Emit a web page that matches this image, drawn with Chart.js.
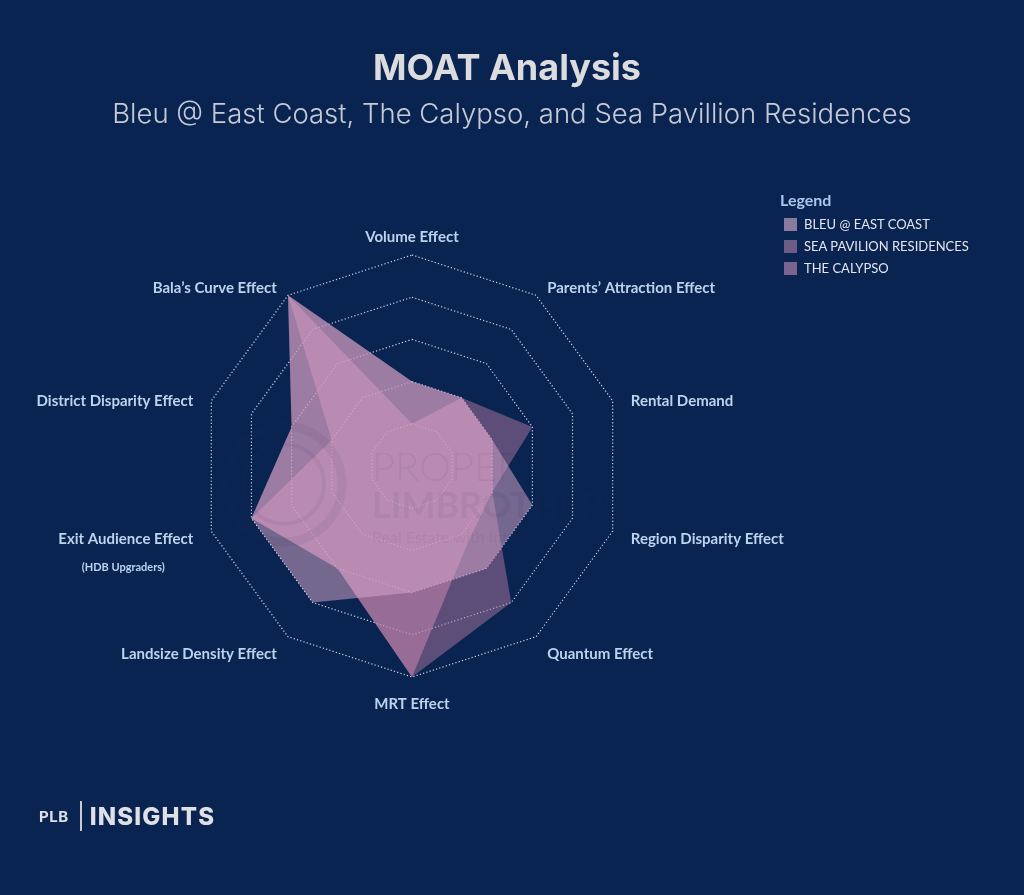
<!DOCTYPE html>
<html>
<head>
<meta charset="utf-8">
<script src="https://cdn.jsdelivr.net/npm/chart.js@4.4.1/dist/chart.umd.min.js"></script>
<style>
  html, body { margin: 0; padding: 0; background: #0a2451; }
  #wrap { position: relative; width: 1024px; height: 895px; overflow: hidden; }
  #moat { position: absolute; left: 0; top: 0; }
  .title { position: absolute; left: 0; width: 1024px; text-align: center; font-family: Inter, 'Noto Sans', sans-serif; }
  #t1 { top: 44px; left: -5px; font-size: 36px; font-weight: 700; color: #dcdcdf; line-height: 46px; }
  #t2 { top: 96px; font-size: 27.5px; font-weight: 300; color: #c6cad6; line-height: 34px; }
  #legend { position: absolute; left: 780px; top: 190px; font-family: Lato, 'Noto Sans', sans-serif; }
  #legend .head { font-size: 16px; font-weight: 700; color: #a9c7ec; margin-bottom: 4px; }
  #legend .row { display: flex; align-items: center; height: 22px; margin-left: 4px; font-size: 13px; color: #e4e5ee; }
  #legend .sw { width: 13px; height: 13px; margin-right: 7px; }
  #logo { position: absolute; left: 39px; top: 801px; font-family: Inter, 'Noto Sans', sans-serif; font-weight: 700; color: #dfe0e6; display: flex; align-items: center; }
  #logo .plb { font-size: 15px; letter-spacing: 0.5px; }
  #logo .bar { width: 2px; height: 30px; background: #c9cbd3; margin: 0 8px 0 11px; }
  #logo .ins { font-size: 24px; font-weight: 800; letter-spacing: 1.2px; }
</style>
</head>
<body>
<div id="wrap">
  <canvas id="moat" width="1024" height="895"></canvas>
  <div class="title" id="t1">MOAT Analysis</div>
  <div class="title" id="t2">Bleu @ East Coast, The Calypso, and Sea Pavillion Residences</div>
  <div id="legend"></div>
  <div id="logo"><span class="plb">PLB</span><span class="bar"></span><span class="ins">INSIGHTS</span></div>
</div>
<script>
// Axes, clockwise from the top
const axisLabels = [
  'Volume Effect',
  'Parents’ Attraction Effect',
  'Rental Demand',
  'Region Disparity Effect',
  'Quantum Effect',
  'MRT Effect',
  'Landsize Density Effect',
  ['Exit Audience Effect', '(HDB Upgraders)'],
  'District Disparity Effect',
  'Bala’s Curve Effect'
];

// Scores out of 10 (5 rings of 2)
const bleuScores = [4, 4, 4, 6, 6, 6, 8, 8, 6, 10];
const seaPavilionScores = [4, 4, 6, 4, 8, 10, 6, 8, 6, 10];
const calypsoScores = [2, 4, 4, 4, 4.5, 10, 6, 8, 4, 10];

const seriesNames = ['BLEU @ EAST COAST', 'SEA PAVILION RESIDENCES', 'THE CALYPSO'];

const colors = {
  bleu: 'rgba(222, 172, 206, 0.5)',
  sea: 'rgba(174, 117, 162, 0.5)',
  calypso: 'rgba(250, 162, 198, 0.5)',
  swatches: ['#8b7a9f', '#6d5c86', '#7b6590'],
  grid: 'rgba(232, 234, 245, 0.9)',
  label: '#bcd3ee'
};

// Legend (HTML)
const legendEl = document.getElementById('legend');
legendEl.innerHTML = '<div class="head">Legend</div>' + seriesNames.map((name, i) => {
  return `<div class="row"><span class="sw" style="background:${colors.swatches[i]}"></span>${name}</div>`;
}).join('');

/**
 * Axis names drawn just outside the outer ring
 */
const axisLabelPlugin = {
  id: 'axisLabelText',
  afterDraw(chart) {
    const scale = chart.scales.r;
    const ctx = chart.ctx;
    ctx.save();
    ctx.fillStyle = colors.label;
    ctx.textBaseline = 'middle';
    axisLabels.forEach((label, i) => {
      const pos = scale.getPointPosition(i, scale.drawingArea + 19);
      const dx = pos.x - scale.xCenter;
      let dy = 2;
      if (i === 0) dy = 1;
      else if (i === 5) dy = 8;
      else if (i === 1 || i === 9) dy = 8;
      else if (i === 2 || i === 8) dy = 6;
      ctx.textAlign = Math.abs(dx) < 5 ? 'center' : (dx > 0 ? 'left' : 'right');
      const lines = Array.isArray(label) ? label : [label];
      ctx.font = 'bold 15px Lato';
      ctx.fillText(lines[0], pos.x, pos.y + dy);
      if (lines[1]) {
        ctx.font = 'bold 11px Lato';
        ctx.textAlign = 'center';
        ctx.fillText(lines[1], pos.x - 70, pos.y + dy + 28);
      }
    });
    ctx.restore();
  }
};

/**
 * Faint watermark over the shapes
 */
const watermarkPlugin = {
  id: 'watermark',
  afterDatasetsDraw(chart) {
    const scale = chart.scales.r;
    const ctx = chart.ctx;
    const cx = scale.xCenter;
    const cy = scale.yCenter;
    ctx.save();
    ctx.strokeStyle = 'rgba(40, 40, 100, 0.07)';
    ctx.lineWidth = 9;
    ctx.beginPath();
    ctx.arc(cx - 128, cy + 18, 58, 0, Math.PI * 2);
    ctx.stroke();
    ctx.lineWidth = 4;
    ctx.beginPath();
    ctx.arc(cx - 128, cy + 18, 40, 0, Math.PI * 2);
    ctx.stroke();
    ctx.fillStyle = 'rgba(40, 40, 100, 0.07)';
    ctx.textAlign = 'left';
    ctx.textBaseline = 'middle';
    ctx.font = '300 40px Lato';
    ctx.fillText('PROPERTY', cx - 40, cy + 2);
    ctx.font = 'bold 36px Lato';
    ctx.fillText('LIMBROTHERS', cx - 40, cy + 40);
    ctx.font = '16px Lato';
    ctx.fillText('Real Estate with Integrity', cx - 40, cy + 72);
    ctx.restore();
  }
};

const ctx = document.getElementById('moat').getContext('2d');

const moatChart = new Chart(ctx, {
  type: 'radar',
  data: {
    labels: axisLabels,
    datasets: [
      { label: seriesNames[0], data: bleuScores, backgroundColor: colors.bleu },
      { label: seriesNames[1], data: seaPavilionScores, backgroundColor: colors.sea },
      { label: seriesNames[2], data: calypsoScores, backgroundColor: colors.calypso }
    ]
  },
  options: {
    responsive: false,
    animation: false,
    layout: {
      padding: { left: 201, right: 401, top: 255, bottom: 217 }
    },
    elements: {
      line: { borderWidth: 0, fill: true, tension: 0 },
      point: { radius: 0, hoverRadius: 0 }
    },
    plugins: {
      legend: { display: false },
      tooltip: { enabled: false }
    },
    scales: {
      r: {
        z: 1,
        min: 0,
        max: 10,
        ticks: { display: false, stepSize: 2 },
        pointLabels: { display: false },
        angleLines: { display: false },
        grid: { color: colors.grid, lineWidth: 1.2 },
        border: { dash: [1.2, 2.2] }
      }
    }
  },
  plugins: [watermarkPlugin, axisLabelPlugin]
});
</script>
</body>
</html>
